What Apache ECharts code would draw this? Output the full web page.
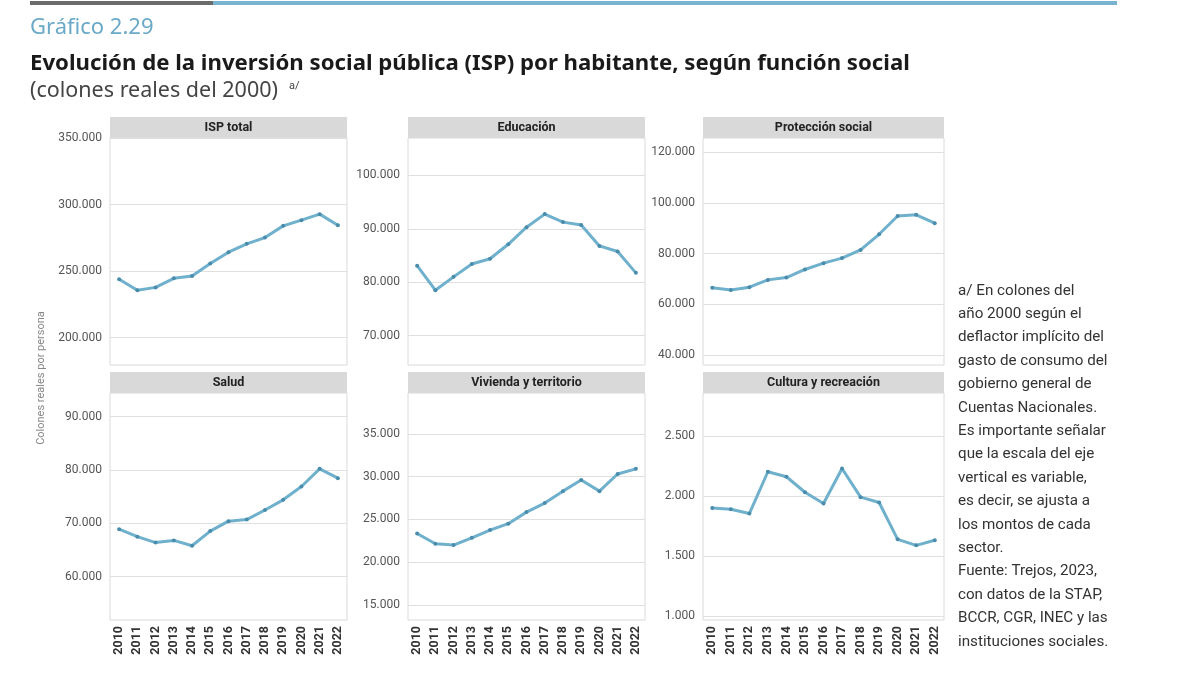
<!DOCTYPE html>
<html>
<head>
<meta charset="utf-8">
<script src="https://cdn.jsdelivr.net/npm/echarts@6/dist/echarts.min.js"></script>
<style>
  html, body { margin: 0; padding: 0; background: #fff; }
  #chart { width: 1200px; height: 675px; }
</style>
</head>
<body>
<div id="chart"></div>
<script>
// years on the x axis
const years = ['2010', '2011', '2012', '2013', '2014', '2015', '2016', '2017', '2018', '2019', '2020', '2021', '2022']

// colones reales del 2000 por persona
const ispTotal = [243900, 235600, 237800, 244600, 246400, 255700, 264200, 270500, 275200, 284000, 288300, 292800, 284500]
const educacion = [83100, 78500, 81000, 83400, 84400, 87100, 90300, 92750, 91250, 90700, 86800, 85750, 81750]
const proteccion = [66500, 65600, 66700, 69600, 70500, 73700, 76200, 78200, 81400, 87600, 94800, 95300, 92000]
const salud = [68900, 67500, 66400, 66800, 65800, 68550, 70400, 70700, 72500, 74400, 76900, 80200, 78450]
const vivienda = [23360, 22150, 22000, 22850, 23750, 24500, 25850, 26900, 28300, 29600, 28300, 30300, 30900]
const cultura = [1902, 1891, 1855, 2204, 2162, 2033, 1939, 2231, 1992, 1947, 1640, 1590, 1632]

// tick labels of each free y scale
const ticksIsp = [200000, 250000, 300000, 350000]
const ticksEdu = [70000, 80000, 90000, 100000]
const ticksProt = [40000, 60000, 80000, 100000, 120000]
const ticksSalud = [60000, 70000, 80000, 90000]
const ticksViv = [15000, 20000, 25000, 30000, 35000]
const ticksCult = [1000, 1500, 2000, 2500]

const panelNames = ['ISP total', 'Educación', 'Protección social', 'Salud', 'Vivienda y territorio', 'Cultura y recreación']

const notes = [
  'a/ En colones del',
  'año 2000 según el',
  'deflactor implícito del',
  'gasto de consumo del',
  'gobierno general de',
  'Cuentas Nacionales.',
  'Es importante señalar',
  'que la escala del eje',
  'vertical es variable,',
  'es decir, se ajusta a',
  'los montos de cada',
  'sector.',
  'Fuente: Trejos, 2023,',
  'con datos de la STAP,',
  'BCCR, CGR, INEC y las',
  'instituciones sociales.'
]

const FONT = 'Roboto'
const HEAD_FONT = 'Noto Sans'
const lineColor = '#6fb0cc'
const dotColor = '#4a8cab'

const fmt = (v) => String(v).replace(/\B(?=(\d{3})+(?!\d))/g, '.')

// panel layout: [left, top, width, height], y range
const panels = [
  { box: [110, 138, 237, 227], min: 179500, max: 350000, ticks: ticksIsp, data: ispTotal },
  { box: [408, 138, 237, 227], min: 64500, max: 107000, ticks: ticksEdu, data: educacion },
  { box: [703, 138, 241, 227], min: 36000, max: 125600, ticks: ticksProt, data: proteccion },
  { box: [110, 393, 237, 227], min: 51900, max: 94400, ticks: ticksSalud, data: salud },
  { box: [408, 393, 237, 227], min: 13250, max: 39760, ticks: ticksViv, data: vivienda },
  { box: [703, 393, 241, 227], min: 967, max: 2861, ticks: ticksCult, data: cultura }
]

const chart = echarts.init(document.getElementById('chart'), null, { renderer: 'canvas' })

const graphic = [
  // top rule
  { type: 'rect', shape: { x: 30, y: 1, width: 183, height: 4 }, style: { fill: '#6b6b6b' } },
  { type: 'rect', shape: { x: 213, y: 1, width: 904, height: 4 }, style: { fill: '#7ab3d0' } },
  { type: 'text', x: 30, y: 28, style: { text: 'Gráfico 2.29', fontFamily: HEAD_FONT, fontSize: 22, fill: '#6aa9c7', verticalAlign: 'middle' } },
  { type: 'text', x: 30, y: 64, style: { text: 'Evolución de la inversión social pública (ISP) por habitante, según función social', fontFamily: HEAD_FONT, fontSize: 22.2, fontWeight: 'bold', fill: '#1a1a1a', verticalAlign: 'middle' } },
  { type: 'text', x: 30, y: 91, style: { text: '(colones reales del 2000)', fontFamily: HEAD_FONT, fontSize: 21.5, fill: '#444', verticalAlign: 'middle' } },
  { type: 'text', x: 289, y: 86, style: { text: 'a/', fontFamily: FONT, fontSize: 11, fill: '#444', verticalAlign: 'middle' } },
  {
    type: 'text', x: 41, y: 378, rotation: Math.PI / 2,
    style: { text: 'Colones reales por persona', fontFamily: FONT, fontSize: 11, fill: '#888', align: 'center', verticalAlign: 'middle' }
  },
  {
    type: 'text', left: 958, top: 279,
    style: { text: notes.join('\n'), fontFamily: FONT, fontSize: 15.2, lineHeight: 23.4, fill: '#333' }
  }
]

panels.forEach((p, i) => {
  const [l, t, w] = p.box
  graphic.push({ type: 'rect', shape: { x: l, y: t - 21, width: w, height: 21 }, style: { fill: '#d9d9d9' } })
  graphic.push({
    type: 'text', x: l + w / 2, y: t - 10.5,
    style: { text: panelNames[i], fontFamily: FONT, fontSize: 12.5, fontWeight: 'bold', fill: '#222', align: 'center', verticalAlign: 'middle' }
  })
})

const option = {
  backgroundColor: '#fff',
  animation: false,
  graphic: graphic,
  grid: panels.map(p => ({
    left: p.box[0], top: p.box[1], width: p.box[2], height: p.box[3],
    show: true, borderColor: '#dadada', borderWidth: 1, backgroundColor: '#fff'
  })),
  xAxis: panels.map((p, i) => ({
    type: 'category',
    gridIndex: i,
    data: years,
    boundaryGap: true,
    axisLine: { show: false },
    axisTick: { show: false },
    splitLine: { show: false },
    axisLabel: {
      show: i >= 3,
      rotate: 90,
      interval: 0,
      margin: 6,
      fontFamily: FONT,
      fontSize: 12.5,
      fontWeight: 'bold',
      color: '#333'
    }
  })),
  yAxis: panels.map((p, i) => ({
    type: 'value',
    gridIndex: i,
    min: p.min,
    max: p.max,
    axisLine: { show: false },
    axisTick: { show: false, customValues: p.ticks },
    splitLine: { show: true, lineStyle: { color: '#e0e0e0', width: 1 } },
    axisLabel: {
      customValues: p.ticks,
      formatter: fmt,
      margin: 8,
      fontFamily: FONT,
      fontSize: 12,
      color: '#555'
    }
  })),
  series: panels.map((p, i) => ({
    type: 'line',
    xAxisIndex: i,
    yAxisIndex: i,
    data: p.data,
    symbol: 'circle',
    symbolSize: 4,
    showSymbol: true,
    lineStyle: { color: lineColor, width: 3 },
    itemStyle: { color: dotColor },
    z: 3
  }))
}

chart.setOption(option)
</script>
</body>
</html>
